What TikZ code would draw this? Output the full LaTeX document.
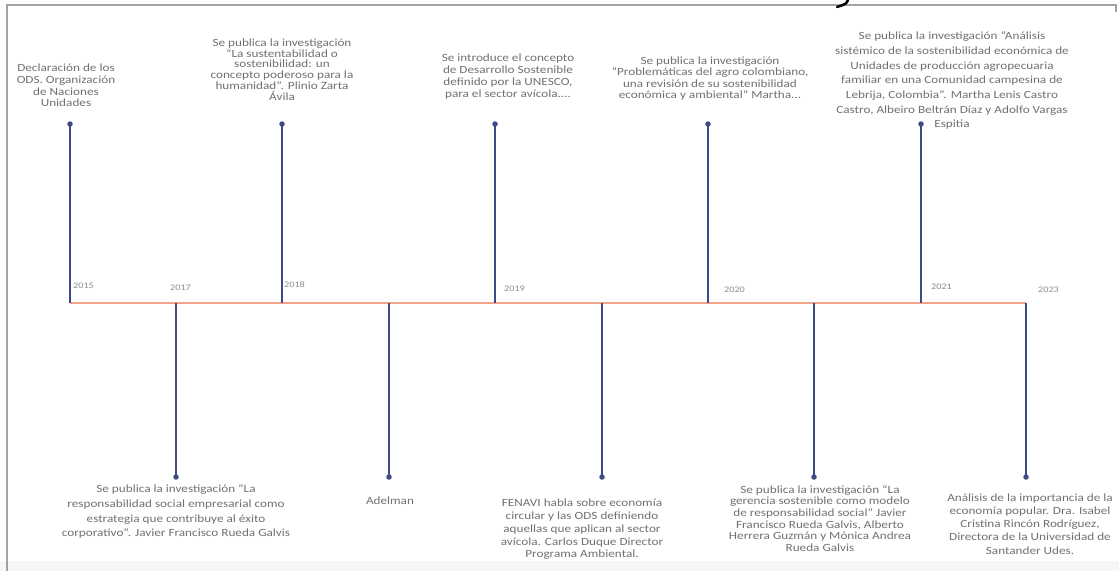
\documentclass[tikz,border=0pt]{standalone}
\usepackage{fontspec}
\setmainfont{Carlito}[FakeStretch=1.2]
\definecolor{framecol}{HTML}{A3A3A3}
\definecolor{axiscol}{HTML}{F2A48A}
\definecolor{stemcol}{HTML}{3F4B82}
\definecolor{txtcol}{HTML}{707070}
\definecolor{yearcol}{HTML}{8C8C8C}
\tikzset{
  stemline/.style={draw=stemcol, line width=1.4pt},
  dotnode/.style={circle, fill=stemcol, inner sep=0pt, minimum size=5.5pt},
  evtext/.style={text=txtcol, align=center, inner sep=0pt},
  yeartext/.style={text=yearcol, font=\fontsize{8.5}{10}\selectfont, inner sep=0pt, anchor=west},
  axisline/.style={draw=axiscol, line width=1.5pt},
  framel/.style={draw=framecol, line width=2pt}
}
\begin{document}
\begin{tikzpicture}[x=1pt,y=-1pt]
\useasboundingbox (0,0) rectangle (1119,571);
% frame remnants
\fill[gray!7] (0,561) rectangle (1119,571);
\draw[framel] (7,571) -- (7,5) -- (1116,5) -- (1116,12);
\draw[black, line width=2.5pt, line cap=round] (848,0) .. controls (846,4) .. (837,7);
% axis coordinates
\coordinate (a1) at (70,303);
\coordinate (a2) at (176,303);
\coordinate (a3) at (282,303);
\coordinate (a4) at (389,303);
\coordinate (a5) at (495,303);
\coordinate (a6) at (602,303);
\coordinate (a7) at (708,303);
\coordinate (a8) at (814,303);
\coordinate (a9) at (921,303);
\coordinate (a10) at (1026,303);
\draw[axisline] (a1) -- (a10);
% dots
\node[dotnode] (d1) at (70,124) {};
\node[dotnode] (d2) at (176,477) {};
\node[dotnode] (d3) at (282,124) {};
\node[dotnode] (d4) at (389,477) {};
\node[dotnode] (d5) at (495,124) {};
\node[dotnode] (d6) at (602,477) {};
\node[dotnode] (d7) at (708,124) {};
\node[dotnode] (d8) at (814,477) {};
\node[dotnode] (d9) at (921,124) {};
\node[dotnode] (d10) at (1026,477) {};
\foreach \i in {1,...,10} {\draw[stemline] (a\i) -- (d\i.center);}
% years
\node[yeartext] (y1) at (73,286) {2015};
\node[yeartext] (y2) at (170,288) {2017};
\node[yeartext] (y3) at (284,285) {2018};
\node[yeartext] (y4) at (504,289) {2019};
\node[yeartext] (y5) at (724,290) {2020};
\node[yeartext] (y6) at (931,287) {2021};
\node[yeartext] (y7) at (1038,290) {2023};
% top texts
\node[evtext, anchor=north, font=\fontsize{11}{11.7}\selectfont] (t1) at (66,64)
  {Declaración de los\\ODS. Organización\\de Naciones\\Unidades};
\node[evtext, anchor=north, font=\fontsize{11}{10.8}\selectfont] (t2) at (282,38.5)
  {Se publica la investigación\\``La sustentabilidad o\\sostenibilidad: un\\concepto poderoso para la\\humanidad''. Plinio Zarta\\Ávila};
\node[evtext, anchor=north, font=\fontsize{11}{12}\selectfont] (t3) at (508,53.5)
  {Se introduce el concepto\\de Desarrollo Sostenible\\definido por la UNESCO,\\para el sector avícola....};
\node[evtext, anchor=north, font=\fontsize{11}{11.5}\selectfont] (t4) at (710,56.5)
  {Se publica la investigación\\``Problemáticas del agro colombiano,\\una revisión de su sostenibilidad\\económica y ambiental'' Martha...};
\node[evtext, anchor=north, font=\fontsize{11}{14.7}\selectfont] (t5) at (952,31.5)
  {Se publica la investigación ``Análisis\\sistémico de la sostenibilidad económica de\\Unidades de producción agropecuaria\\familiar en una Comunidad campesina de\\Lebrija, Colombia''. Martha Lenis Castro\\Castro, Albeiro Beltrán Díaz y Adolfo Vargas\\Espitia};
% bottom texts
\node[evtext, anchor=north, font=\fontsize{11}{14.7}\selectfont] (b1) at (176,484.5)
  {Se publica la investigación ``La\\responsabilidad social empresarial como\\estrategia que contribuye al éxito\\corporativo''. Javier Francisco Rueda Galvis};
\node[evtext, font=\fontsize{11}{12}\selectfont] (b2) at (390,501) {Adelman};
\node[evtext, anchor=north, font=\fontsize{11}{12.9}\selectfont] (b3) at (582,498.5)
  {FENAVI habla sobre economía\\circular  y las ODS definiendo\\aquellas que aplican al sector\\avícola. Carlos Duque Director\\Programa Ambiental.};
\node[evtext, anchor=north, font=\fontsize{11}{11.7}\selectfont] (b4) at (820,485)
  {Se publica la investigación ``La\\gerencia sostenible como modelo\\de responsabilidad social'' Javier\\Francisco Rueda Galvis, Alberto\\Herrera Guzmán y Mónica Andrea\\Rueda Galvis};
\node[evtext, anchor=north, font=\fontsize{11}{13.2}\selectfont] (b5) at (1030,493.5)
  {Análisis de la importancia de la\\economía popular. Dra. Isabel\\Cristina Rincón Rodríguez,\\Directora de la Universidad de\\Santander Udes.};
\end{tikzpicture}
\end{document}
